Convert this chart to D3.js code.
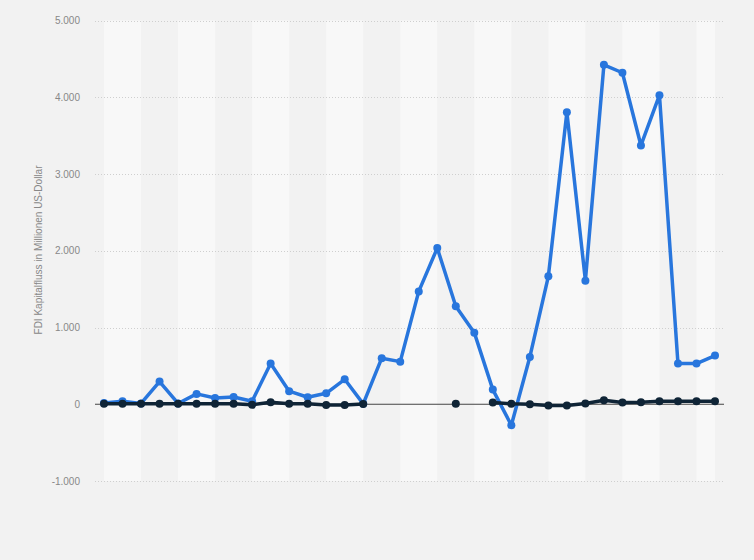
<!DOCTYPE html>
<html><head><meta charset="utf-8">
<script src="https://cdn.jsdelivr.net/npm/d3@7"></script>
<style>
html,body{margin:0;padding:0;background:#f2f2f2;}
svg{display:block;font-family:"Liberation Sans",Arial,sans-serif;}
</style></head>
<body><svg id="c" width="754" height="560"></svg>
<script>
const categories = d3.range(1, 35).map(String);
const blueValues = [15, 40, 10, 295, 10, 135, 82, 95, 40, 530, 170, 91, 143, 325, 5, 600, 555, 1470, 2035, 1276, 933, 191, -273, 616, 1667, 3806, 1610, 4423, 4319, 3372, 4027, 530, 530, 634];
const darkValues = [8, 8, 8, 8, 8, 8, 8, 8, -8, 25, 8, 8, -10, -10, 2, null, null, null, null, 8, null, 22, 5, 0, -17, -17, 10, 52, 22, 26, 39, 39, 39, 39];
const yTicks = [-1000, 0, 1000, 2000, 3000, 4000, 5000];
const yTitle = "FDI Kapitalfluss in Millionen US-Dollar";

const svg = d3.select("#c");
const left = 95, right = 724;
const x = d3.scalePoint().domain(categories).range([104, 715]);
const y = d3.scaleLinear().domain([-1000, 5000]).range([481, 20.5]);

// alternating bands
const n = categories.length;
const bands = [];
for (let i = 0; i < n; i += 4) {
  const x0 = x(categories[i]);
  const x1 = x(categories[Math.min(i + 2, n - 1)]);
  bands.push([x0, x1]);
}
svg.append("g").selectAll("rect").data(bands).join("rect")
  .attr("x", d => d[0]).attr("width", d => d[1] - d[0])
  .attr("y", y(5000)).attr("height", y(-1000) - y(5000))
  .attr("fill", "#f8f8f8");

// gridlines
const locale = d3.formatLocale({decimal: ",", thousands: ".", grouping: [3], currency: ["", ""], minus: "-"});
const fmt = locale.format(",");
const grid = svg.append("g");
grid.selectAll("line").data(yTicks.filter(t => t !== 0)).join("line")
  .attr("x1", left).attr("x2", right)
  .attr("y1", d => Math.round(y(d)) + 0.5).attr("y2", d => Math.round(y(d)) + 0.5)
  .attr("stroke", "#cfcfcf").attr("stroke-width", 1).attr("stroke-dasharray", "1,2");

// y axis labels
const yAxis = d3.axisLeft(y).tickValues(yTicks).tickFormat(fmt).tickSize(0).tickPadding(0);
const ag = svg.append("g").attr("transform", "translate(80,0)").call(yAxis);
ag.select(".domain").remove();
ag.selectAll("text").attr("fill", "#888").attr("font-size", 10)
  .attr("font-family", "'Liberation Sans',Arial,sans-serif");

// y title
svg.append("text").attr("transform", `translate(42,250) rotate(-90)`)
  .attr("text-anchor", "middle").attr("fill", "#888").attr("font-size", 10)
  .text(yTitle);

// zero line
svg.append("line").attr("x1", left).attr("x2", right)
  .attr("y1", y(0)).attr("y2", y(0)).attr("stroke", "#444").attr("stroke-width", 1.2);

function drawSeries(vals, color, lw, r) {
  const data = vals.map((v, i) => ({c: categories[i], v}));
  const line = d3.line().defined(d => d.v !== null)
    .x(d => x(d.c)).y(d => y(d.v));
  svg.append("path").datum(data).attr("d", line)
    .attr("fill", "none").attr("stroke", color).attr("stroke-width", lw)
    .attr("stroke-linejoin", "round").attr("stroke-linecap", "round");
  svg.append("g").selectAll("circle").data(data.filter(d => d.v !== null)).join("circle")
    .attr("cx", d => x(d.c)).attr("cy", d => y(d.v)).attr("r", r).attr("fill", color);
}
drawSeries(blueValues, "#2876dd", 3.5, 4);
drawSeries(darkValues, "#0f2436", 3.5, 4);
</script></body></html>
